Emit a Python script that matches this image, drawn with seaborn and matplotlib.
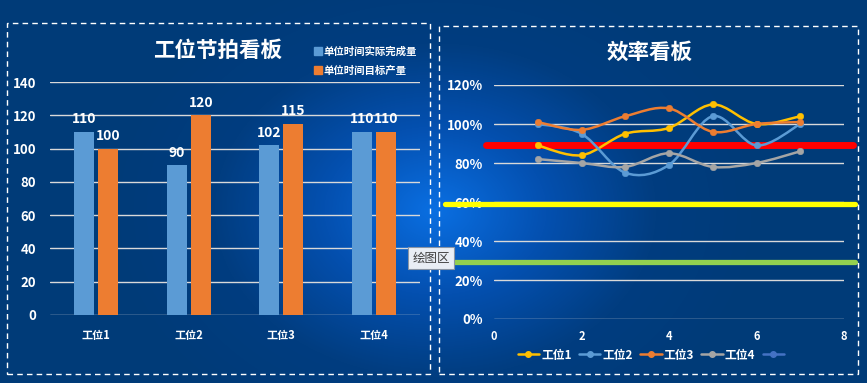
import numpy as np
import pandas as pd
import seaborn as sns
import matplotlib.pyplot as plt
from matplotlib.path import Path
from matplotlib.patches import PathPatch, Rectangle
from matplotlib.lines import Line2D
from matplotlib.colors import LinearSegmentedColormap

# bar chart data
stations = ['工位1', '工位2', '工位3', '工位4']
actual = [110, 90, 102, 110]
target = [100, 120, 115, 110]
bar_series = ['单位时间实际完成量', '单位时间目标产量']

# efficiency data (percent)
x_pts = [1, 2, 3, 4, 5, 6, 7]
eff1 = [89, 84, 95, 98, 110, 100, 104]
eff2 = [100, 95, 75, 79, 104, 89, 100]
eff3 = [101, 97, 104, 108, 96, 100, 101]
eff4 = [82, 80, 78, 85, 78, 80, 86]
line_names = ['工位1', '工位2', '工位3', '工位4']
thresholds = [89, 59, 29]

bar_colors = ['#5B9BD5', '#ED7D31']
line_colors = ['#FFC000', '#5B9BD5', '#ED7D31', '#A5A5A5']
thr_colors = ['#FF0000', '#FFFF00', '#92D050']

sns.set_theme(style='white')
plt.rcParams['font.family'] = ['Noto Sans CJK SC', 'DejaVu Sans']
plt.rcParams['axes.unicode_minus'] = False

fig = plt.figure(figsize=(8.67, 3.83), dpi=100)

# radial gradient background
bg = fig.add_axes([0, 0, 1, 1])
W, H = 867, 383
xx, yy = np.meshgrid(np.arange(W), np.arange(H))
r = np.sqrt(((xx - 435) / 330.0) ** 2 + ((yy - 210) / 250.0) ** 2)
r = np.clip(r, 0, 1)
cmap = LinearSegmentedColormap.from_list('bg', ['#0a6fe2', '#0450b0', '#013d80', '#003b78'], N=256)
bg.imshow(r, cmap=cmap, aspect='auto', extent=[0, 1, 0, 1], origin='upper')
bg.axis('off')

# dashed frames
fig.patches.append(Rectangle((7 / W, 1 - 374 / H), 423 / W, 351 / H, transform=fig.transFigure,
                             fill=False, ec='white', lw=1, ls=(0, (4, 3))))
fig.patches.append(Rectangle((439 / W, 1 - 374 / H), 419 / W, 348 / H, transform=fig.transFigure,
                             fill=False, ec='white', lw=1, ls=(0, (4, 3))))

# ---- left: bar chart ----
df = pd.DataFrame({
    'station': stations * 2,
    'value': actual + target,
    'series': [bar_series[0]] * 4 + [bar_series[1]] * 4,
})
ax1 = fig.add_axes([50 / W, 1 - 315 / H, 370 / W, 233 / H])
ax1.patch.set_alpha(0)
sns.barplot(data=df, x='station', y='value', hue='series', palette=bar_colors,
            width=0.52, gap=0.15, saturation=1, linewidth=0, ax=ax1, legend=False)
ax1.set_ylim(0, 140)
ax1.set_xlim(-0.5, 3.5)
ax1.set_yticks(range(0, 141, 20))
ax1.grid(axis='y', color='#d9d9d9', lw=1)
ax1.set_axisbelow(True)
for s in ax1.spines.values():
    s.set_visible(False)
ax1.set_xlabel('')
ax1.set_ylabel('')
ax1.tick_params(axis='y', colors='white', labelsize=9.5, pad=10, length=0)
ax1.tick_params(axis='x', colors='white', labelsize=8, pad=10, length=0)
for lab in ax1.get_xticklabels() + ax1.get_yticklabels():
    lab.set_fontweight('bold')
for c in ax1.containers:
    ax1.bar_label(c, color='white', fontsize=10, fontweight='bold', padding=4)
fig.text(218 / W, 1 - 50 / H, '工位节拍看板', color='white', fontsize=15.5, fontweight='bold',
         ha='center', va='center')
bar_handles = [Line2D([], [], ls='', marker='s', ms=6, mfc=c, mec=c) for c in bar_colors]
ax1.legend(bar_handles, bar_series, loc='center left', bbox_to_anchor=(303 / W, 1 - 61 / H),
           bbox_transform=fig.transFigure, frameon=False, labelcolor='white', handletextpad=0.1,
           handlelength=1.0, labelspacing=0.9, prop={'size': 7.5, 'weight': 'bold'})

# ---- right: efficiency lines ----
ax2 = fig.add_axes([494 / W, 1 - 319 / H, 350 / W, 234 / H])
ax2.patch.set_alpha(0)
ax2.set_xlim(0, 8)
ax2.set_ylim(0, 120)
ax2.set_yticks(range(0, 121, 20))
ax2.set_yticklabels([f'{v}%' for v in range(0, 121, 20)])
ax2.set_xticks(range(0, 9, 2))
ax2.grid(axis='y', color='#d9d9d9', lw=1)
ax2.set_axisbelow(True)
for s in ax2.spines.values():
    s.set_visible(False)
ax2.tick_params(axis='y', colors='white', labelsize=9.5, pad=8, length=0)
ax2.tick_params(axis='x', colors='white', labelsize=8, pad=8, length=0)
for lab in ax2.get_xticklabels() + ax2.get_yticklabels():
    lab.set_fontweight('bold')

thr_span = [(-0.023, 1.026), (-0.14, 1.031), (-0.14, 1.031)]
thr_width = [5, 3.8, 3.8]
for v, c, (a, b), w in zip(thresholds, thr_colors, thr_span, thr_width):
    ax2.axhline(v, xmin=a, xmax=b, color=c, lw=w, clip_on=False, zorder=1)


def smooth_path(xs, ys):
    # Catmull-Rom style bezier through the data points (like Excel smoothed lines)
    p = np.column_stack([xs, ys]).astype(float)
    ext = np.vstack([p[0], p, p[-1]])
    verts = [p[0]]
    codes = [Path.MOVETO]
    for i in range(len(p) - 1):
        p0, p1, p2, p3 = ext[i], ext[i + 1], ext[i + 2], ext[i + 3]
        verts += [p1 + (p2 - p0) / 6, p2 - (p3 - p1) / 6, p2]
        codes += [Path.CURVE4] * 3
    return Path(verts, codes)


eff = [eff1, eff2, eff3, eff4]
for ys, c in zip(eff, line_colors):
    ax2.add_patch(PathPatch(smooth_path(x_pts, ys), fill=False, ec=c, lw=1.8, zorder=3))
    sns.scatterplot(x=x_pts, y=ys, color=c, s=22, edgecolor=c, ax=ax2, zorder=4)

fig.text(650 / W, 1 - 52 / H, '效率看板', color='white', fontsize=15.5, fontweight='bold',
         ha='center', va='center')
line_handles = [Line2D([], [], color=c, lw=1.8, marker='o', ms=4) for c in line_colors + ['#4472C4']]
ax2.legend(line_handles, line_names + [''], loc='center', bbox_to_anchor=(652 / W, 1 - 355 / H),
           bbox_transform=fig.transFigure, ncol=5, frameon=False, labelcolor='white',
           handlelength=1.8, handletextpad=0.2, columnspacing=0.6,
           prop={'size': 8.5, 'weight': 'bold'})

# tooltip box left by the spreadsheet
fig.text(431 / W, 1 - 258 / H, '绘图区', color='#404040', fontsize=9, ha='center', va='center',
         bbox=dict(boxstyle='square,pad=0.35', fc='#e9eef5', ec='#8a95a5', lw=0.8))

fig.savefig('out.png', dpi=100)
